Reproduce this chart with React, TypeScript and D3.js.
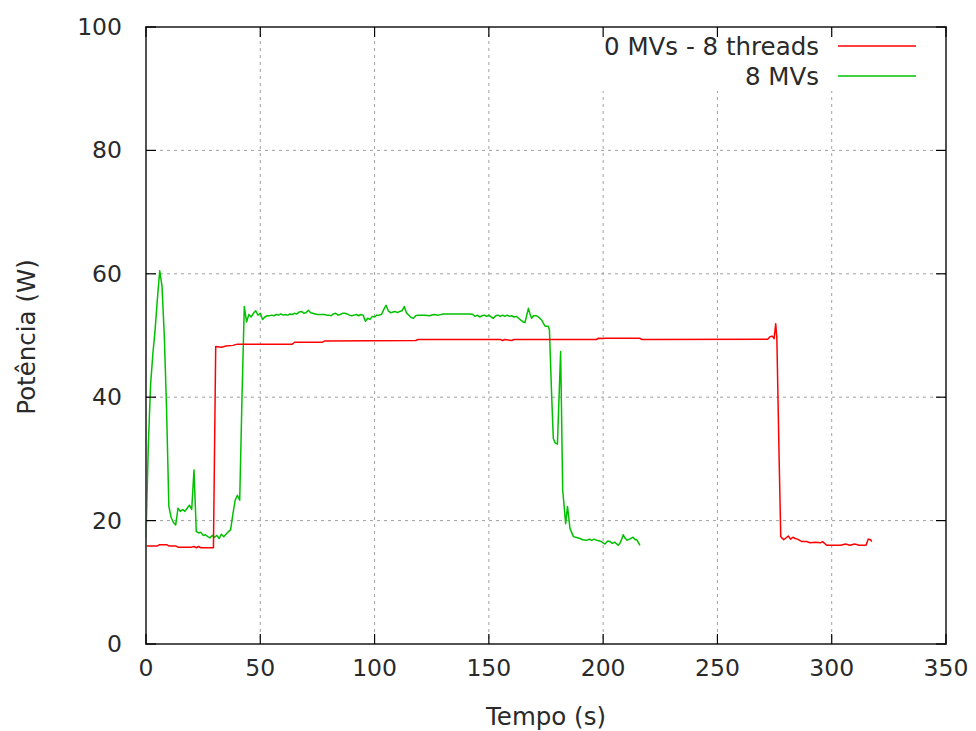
import React from "react";
import * as d3 from "d3";

// Power draw over time, two runs
const redTime = [0, 5, 6, 9, 10, 13, 14, 20, 21, 22, 23, 24, 29.5, 30.5, 33, 35, 38, 40, 64, 65, 77, 78, 118, 119, 155, 156, 157, 160, 161, 197, 198, 200, 201, 216, 217, 272, 273, 274, 274.8, 275.5, 276, 277, 277.7, 279, 281, 282, 283, 284, 285, 287, 289, 290.5, 293, 295, 296, 297.8, 304, 306, 308, 310, 312, 315, 316, 317, 317.5];
const redPower = [15.9, 15.9, 16.1, 16.1, 15.9, 15.9, 15.7, 15.7, 15.8, 15.6, 15.8, 15.6, 15.6, 48.2, 48.1, 48.3, 48.4, 48.6, 48.6, 48.9, 48.9, 49.1, 49.2, 49.35, 49.35, 49.2, 49.35, 49.2, 49.35, 49.35, 49.55, 49.5, 49.55, 49.55, 49.35, 49.4, 49.8, 49.9, 49.5, 51.9, 49.5, 30, 17.4, 16.9, 17.5, 17.0, 17.3, 17.1, 17.0, 16.6, 16.6, 16.4, 16.5, 16.4, 16.6, 16.0, 16.0, 16.2, 16.0, 16.2, 16.0, 16.0, 17.0, 16.9, 16.6];

const greenTime = [0, 1, 2, 3, 4, 5, 6, 7, 8, 9, 10, 11, 12, 13, 14, 15, 16, 17, 18, 19, 20, 21, 22, 23, 24, 25, 26, 27, 28, 29, 30, 31, 32, 33, 34, 35, 36, 37, 38, 39, 40, 41, 42, 43, 44, 45, 46, 47, 48, 49,
  50, 51, 52, 53, 54, 55, 56, 57, 58, 59, 60, 61, 62, 63, 64, 65, 66, 67, 68, 69, 70, 71, 72, 73, 74, 75, 76, 77, 78, 79, 80, 81, 82, 83, 84, 85, 86, 87, 88, 89, 90, 91, 92, 93, 94, 95, 96, 97, 98, 99,
  100, 101, 102, 103, 104, 105, 106, 107, 108, 109, 110, 111, 112, 113, 114, 115, 116, 117, 118, 119, 120, 122, 124, 126, 128, 130, 132, 134, 136, 138, 140, 142, 143, 144, 145, 146, 147, 148, 149,
  150, 151, 152, 153, 154, 155, 156, 157, 158, 159, 160, 161, 162, 163, 164, 165, 165.8, 167.3, 168, 168.7, 169.5, 170.9, 172, 173.1, 174.6, 176, 176.5, 177.5, 178.2, 179, 180, 181.4, 182.3, 183.6, 184.4, 185.5, 187, 188, 189.9,
  191, 192.8, 194, 195, 196, 197.2, 198.5, 199.5, 200.8, 202, 203, 204, 205, 206.6, 207.5, 208.8, 209.5, 210.5, 211.5, 213.1, 214, 214.7, 216.1];
const greenPower = [17.3, 32, 42, 47, 51, 56, 60.5, 58, 50, 38, 22.3, 20.5, 19.7, 19.3, 22, 21.5, 21.8, 21.5, 22, 22.5, 21.8, 28.2, 18.2, 18.0, 18.1, 17.6, 17.7, 17.4, 17.2, 17.6, 17.3, 17.6, 17.1, 17.8, 17.4, 17.8, 18.2, 18.5, 21, 23.3, 24.1, 23.3, 40, 54.7, 52.2, 53.4, 53.0, 53.6, 54.0, 53.3,
  53.6, 52.6, 53.0, 53.2, 53.2, 53.3, 53.2, 53.4, 53.3, 53.5, 53.3, 53.4, 53.3, 53.5, 53.4, 53.6, 53.5, 53.8, 53.9, 53.6, 53.7, 54.1, 53.7, 53.6, 53.5, 53.4, 53.4, 53.4, 53.4, 53.3, 53.3, 53.2, 53.5, 53.6, 53.3, 53.4, 53.6, 53.6, 53.5, 53.3, 53.2, 53.3, 53.4, 53.2, 53.4, 53.3, 52.3, 52.8, 52.6, 53.1,
  53.0, 53.3, 53.3, 53.4, 54.2, 54.9, 54.0, 53.7, 53.8, 53.9, 53.7, 53.9, 54.0, 54.7, 53.6, 53.3, 52.9, 52.8, 53.2, 53.3, 53.3, 53.3, 53.2, 53.4, 53.3, 53.5, 53.5, 53.5, 53.5, 53.5, 53.5, 53.5, 53.4, 53.1, 53.3, 53.0, 53.2, 53.3, 53.1,
  53.3, 53.0, 52.8, 53.2, 53.3, 53.1, 53.3, 53.1, 53.3, 53.1, 53.2, 53.0, 53.1, 52.8, 52.5, 52.2, 52.1, 54.4, 53.5, 52.8, 53.2, 53.2, 52.9, 52.5, 51.5, 51.5, 50.9, 40, 33.3, 32.6, 32.4, 47.4, 25, 19.5, 22.3, 18.7, 17.4, 17.3, 17.1,
  16.9, 16.8, 17.0, 16.8, 17.0, 16.8, 16.7, 16.5, 16.2, 16.7, 16.6, 16.3, 16.5, 16.0, 16.4, 17.7, 17.2, 16.8, 17.0, 17.3, 16.9, 16.9, 16.0];

const xTicks = [0, 50, 100, 150, 200, 250, 300, 350];
const yTicks = [0, 20, 40, 60, 80, 100];
const seriesNames = ["0 MVs - 8 threads", "8 MVs"];
const seriesColors = ["#ff0000", "#00c000"];

const W = 976;
const H = 731;
const left = 146, right = 946, top = 27, bottom = 644;
const FONT = "'DejaVu Sans', sans-serif";
const TEXT = "#2a2a2a";

export default function App() {
  const x = d3.scaleLinear().domain([0, 350]).range([left, right]);
  const y = d3.scaleLinear().domain([0, 100]).range([bottom, top]);

  const line = d3
    .line<[number, number]>()
    .x((d) => x(d[0]))
    .y((d) => y(d[1]));

  const redPts = redTime.map((t, i) => [t, redPower[i]] as [number, number]);
  const greenPts = greenTime.map((t, i) => [t, greenPower[i]] as [number, number]);

  const tickLen = 10;
  const frame = "#404040";

  return (
    <svg
      width={W}
      height={H}
      style={{ position: "absolute", left: 0, top: 0, background: "#fff" }}
      fontFamily={FONT}
    >
      <rect x={0} y={0} width={W} height={H} fill="#fff" />

      {/* grid */}
      <g stroke="#a0a0a0" strokeWidth={1} strokeDasharray="3,4">
        {yTicks.slice(1, -1).map((v) => (
          <line key={"gy" + v} x1={left} x2={right} y1={y(v)} y2={y(v)} />
        ))}
        {xTicks.slice(1, -1).map((v) => (
          <line key={"gx" + v} x1={x(v)} x2={x(v)} y1={top} y2={bottom} />
        ))}
      </g>

      {/* legend backdrop hides grid */}
      <rect x={590} y={top + 1} width={345} height={63} fill="#fff" />

      {/* series */}
      <path d={line(greenPts) || ""} fill="none" stroke={seriesColors[1]} strokeWidth={1.5} strokeLinejoin="round" />
      <path d={line(redPts) || ""} fill="none" stroke={seriesColors[0]} strokeWidth={1.5} strokeLinejoin="round" />

      {/* frame */}
      <rect x={left} y={top} width={right - left} height={bottom - top} fill="none" stroke={frame} strokeWidth={1.8} />

      {/* ticks, mirrored */}
      <g stroke="#000" strokeWidth={1.2}>
        {yTicks.map((v) => (
          <g key={"ty" + v}>
            <line x1={left} x2={left + tickLen} y1={y(v)} y2={y(v)} />
            <line x1={right} x2={right - tickLen} y1={y(v)} y2={y(v)} />
          </g>
        ))}
        {xTicks.map((v) => (
          <g key={"tx" + v}>
            <line x1={x(v)} x2={x(v)} y1={bottom} y2={bottom - tickLen} />
            <line x1={x(v)} x2={x(v)} y1={top} y2={top + tickLen} />
          </g>
        ))}
      </g>

      {/* tick labels */}
      <g fontSize={23.5} fill={TEXT}>
        {yTicks.map((v) => (
          <text key={"ly" + v} x={left - 24} y={y(v)} textAnchor="end" dominantBaseline="central">
            {v}
          </text>
        ))}
        {xTicks.map((v) => (
          <text key={"lx" + v} x={x(v)} y={bottom + 24} textAnchor="middle" dominantBaseline="central">
            {v}
          </text>
        ))}
      </g>

      {/* axis titles */}
      <text x={(left + right) / 2} y={716} textAnchor="middle" dominantBaseline="central" fontSize={24.5} fill={TEXT}>
        Tempo (s)
      </text>
      <text
        transform={`translate(26, ${337}) rotate(-90)`}
        textAnchor="middle"
        dominantBaseline="central"
        fontSize={24.5}
        fill={TEXT}
      >
        Potência (W)
      </text>

      {/* legend */}
      <g fontSize={24.5} fill={TEXT}>
        {seriesNames.map((name, i) => (
          <g key={name}>
            <text x={819} y={46 + i * 30} textAnchor="end" dominantBaseline="central">
              {name}
            </text>
            <line x1={838} x2={916} y1={46 + i * 30} y2={46 + i * 30} stroke={seriesColors[i]} strokeWidth={1.5} />
          </g>
        ))}
      </g>
    </svg>
  );
}
